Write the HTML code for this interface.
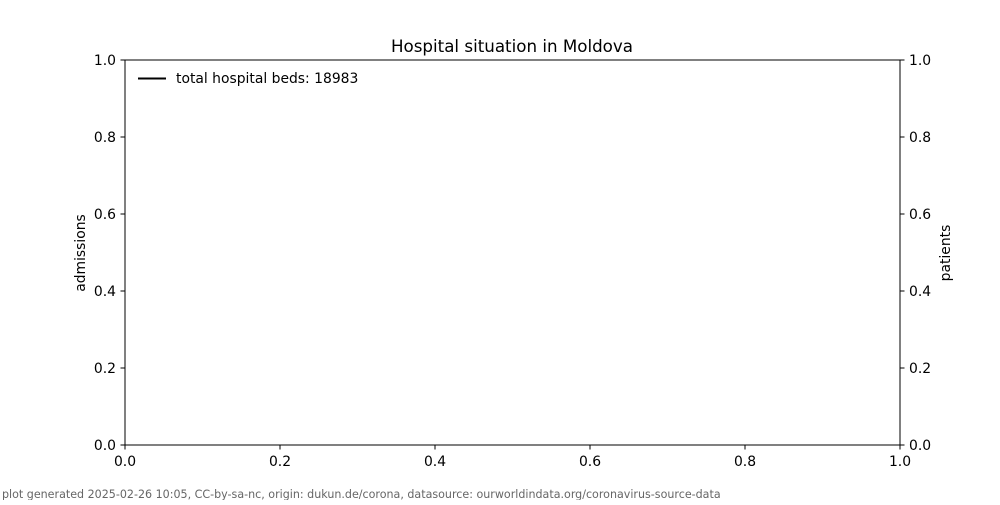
<!DOCTYPE html>
<html><head><meta charset="utf-8"><style>
body{margin:0;background:#fff;}
svg text{font-family:"DejaVu Sans","Liberation Sans",sans-serif;}
</style></head><body>
<svg width="1000" height="500" xmlns="http://www.w3.org/2000/svg">
<rect width="1000" height="500" fill="#fff"/>
<rect x="125" y="60" width="775" height="385" fill="none" stroke="#000" stroke-width="1"/>
<g stroke="#000" stroke-width="1">
<line x1="125" y1="445" x2="125" y2="449.5"/><line x1="280" y1="445" x2="280" y2="449.5"/><line x1="435" y1="445" x2="435" y2="449.5"/><line x1="590" y1="445" x2="590" y2="449.5"/><line x1="745" y1="445" x2="745" y2="449.5"/><line x1="900" y1="445" x2="900" y2="449.5"/>
<line x1="125" y1="445" x2="120.5" y2="445"/><line x1="125" y1="368" x2="120.5" y2="368"/><line x1="125" y1="291" x2="120.5" y2="291"/><line x1="125" y1="214" x2="120.5" y2="214"/><line x1="125" y1="137" x2="120.5" y2="137"/><line x1="125" y1="60" x2="120.5" y2="60"/>
<line x1="900" y1="445" x2="904.5" y2="445"/><line x1="900" y1="368" x2="904.5" y2="368"/><line x1="900" y1="291" x2="904.5" y2="291"/><line x1="900" y1="214" x2="904.5" y2="214"/><line x1="900" y1="137" x2="904.5" y2="137"/><line x1="900" y1="60" x2="904.5" y2="60"/>
</g>
<g font-size="13.9" text-anchor="middle" fill="#000">
<text x="125" y="466">0.0</text><text x="280" y="466">0.2</text><text x="435" y="466">0.4</text><text x="590" y="466">0.6</text><text x="745" y="466">0.8</text><text x="900" y="466">1.0</text>
</g>
<g font-size="13.9" text-anchor="end" fill="#000">
<text x="116" y="450">0.0</text><text x="116" y="373">0.2</text><text x="116" y="296">0.4</text><text x="116" y="219">0.6</text><text x="116" y="142">0.8</text><text x="116" y="65">1.0</text>
</g>
<g font-size="13.9" text-anchor="start" fill="#000">
<text x="909" y="450">0.0</text><text x="909" y="373">0.2</text><text x="909" y="296">0.4</text><text x="909" y="219">0.6</text><text x="909" y="142">0.8</text><text x="909" y="65">1.0</text>
</g>
<text x="512" y="52" font-size="16.7" text-anchor="middle">Hospital situation in Moldova</text>
<text transform="translate(85,253) rotate(-90)" font-size="13.9" text-anchor="middle">admissions</text>
<text transform="translate(950,253) rotate(-90)" font-size="13.9" text-anchor="middle">patients</text>
<line x1="138" y1="78.5" x2="166" y2="78.5" stroke="#000" stroke-width="2"/>
<text x="176" y="83" font-size="13.9">total hospital beds: 18983</text>
<text x="2" y="498" font-size="11.1" fill="#666">plot generated 2025-02-26 10:05, CC-by-sa-nc, origin: dukun.de/corona, datasource: ourworldindata.org/coronavirus-source-data</text>
</svg>
</body></html>
